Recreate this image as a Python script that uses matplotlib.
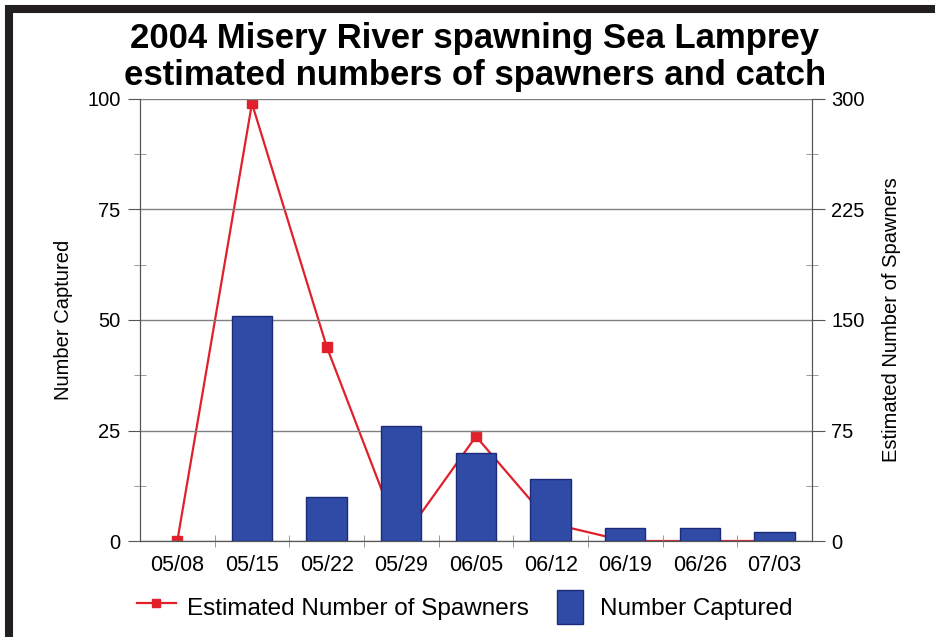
import matplotlib.pyplot as plt
from matplotlib.lines import Line2D
from matplotlib.patches import Patch, Rectangle
from matplotlib.legend_handler import HandlerPatch
from matplotlib.ticker import MultipleLocator, FixedLocator

plt.rcParams['font.family'] = ['Liberation Sans', 'DejaVu Sans']

dates = ['05/08', '05/15', '05/22', '05/29', '06/05', '06/12', '06/19', '06/26', '07/03']
captured = [0, 51, 10, 26, 20, 14, 3, 3, 2]
spawners = [0, 297, 132, 0, 71, 12, 0, 0, 0]

bar_color = '#2f4ba6'
bar_edge = '#1c2a78'
line_color = '#e0202b'
x = list(range(len(dates)))

fig = plt.figure(figsize=(9.35, 6.37), dpi=100)
ax = fig.add_axes([0.1497, 0.1507, 0.7187, 0.6939])
ax2 = ax.twinx()

# line sits behind the bars
ax2.plot(x, spawners, color=line_color, lw=1.6, marker='s', ms=7,
         markerfacecolor=line_color, markeredgecolor=line_color, zorder=2)
ax.set_zorder(ax2.get_zorder() + 1)
ax.patch.set_visible(False)

ax.bar(x, captured, width=0.54, color=bar_color, edgecolor=bar_edge,
       linewidth=[0 if v == 0 else 1 for v in captured], zorder=3)

ax.set_xlim(-0.5, len(dates) - 0.5)
ax.set_ylim(0, 100)
ax2.set_ylim(0, 300)
ax.set_xticks(x)
ax.set_xticklabels(dates)
ax.xaxis.set_minor_locator(FixedLocator([i + 0.5 for i in x[:-1]]))
ax.tick_params(axis='x', which='major', length=0, pad=10, labelsize=15.5)
ax.tick_params(axis='x', which='minor', length=8, direction='inout', color='#888888')

ax.yaxis.set_major_locator(MultipleLocator(25))
ax.yaxis.set_minor_locator(MultipleLocator(12.5))
ax2.yaxis.set_major_locator(MultipleLocator(75))
ax2.yaxis.set_minor_locator(MultipleLocator(37.5))
for a in (ax, ax2):
    a.tick_params(axis='y', which='major', length=9, direction='out', labelsize=14.5,
                  color='#555555', pad=5)
    a.tick_params(axis='y', which='minor', length=9, direction='inout', color='#888888')
    for s in a.spines.values():
        s.set_color('#555555')
    a.spines['top'].set_visible(False)

ax.grid(axis='y', color='#808080', lw=1)
ax.set_axisbelow(True)

ax.set_ylabel('Number Captured', fontsize=14.5, labelpad=10)
ax2.set_ylabel('Estimated Number of Spawners', fontsize=14.5, labelpad=12)

fig.text(0.508, 0.94, '2004 Misery River spawning Sea Lamprey', ha='center', va='center',
         fontsize=25, fontweight='bold')
fig.text(0.508, 0.882, 'estimated numbers of spawners and catch', ha='center', va='center',
         fontsize=25, fontweight='bold')


def square_patch(legend, orig_handle, xdescent, ydescent, width, height, fontsize):
    w = width * 0.68
    return Rectangle((-xdescent + (width - w) / 2, -ydescent), w, height)


handles = [Line2D([0], [0], color=line_color, lw=1.6, marker='s', ms=6),
           Patch(facecolor=bar_color, edgecolor=bar_edge)]
fig.legend(handles, ['Estimated Number of Spawners', 'Number Captured'],
           loc='center', bbox_to_anchor=(0.497, 0.047), ncol=2, frameon=False,
           fontsize=17.5, handlelength=1.6, handleheight=1.75, columnspacing=0.9,
           handletextpad=0.45,
           handler_map={Patch: HandlerPatch(patch_func=square_patch)})

# black frame on the top and left
fig.add_artist(Line2D([5 / 935, 1], [1 - 9 / 637, 1 - 9 / 637], color='#231f20', lw=5.8,
                      solid_capstyle='butt'))
fig.add_artist(Line2D([9 / 935, 9 / 935], [1 - 5 / 637, 0], color='#231f20', lw=5.8,
                      solid_capstyle='butt'))

fig.savefig('out.png', dpi=100)
